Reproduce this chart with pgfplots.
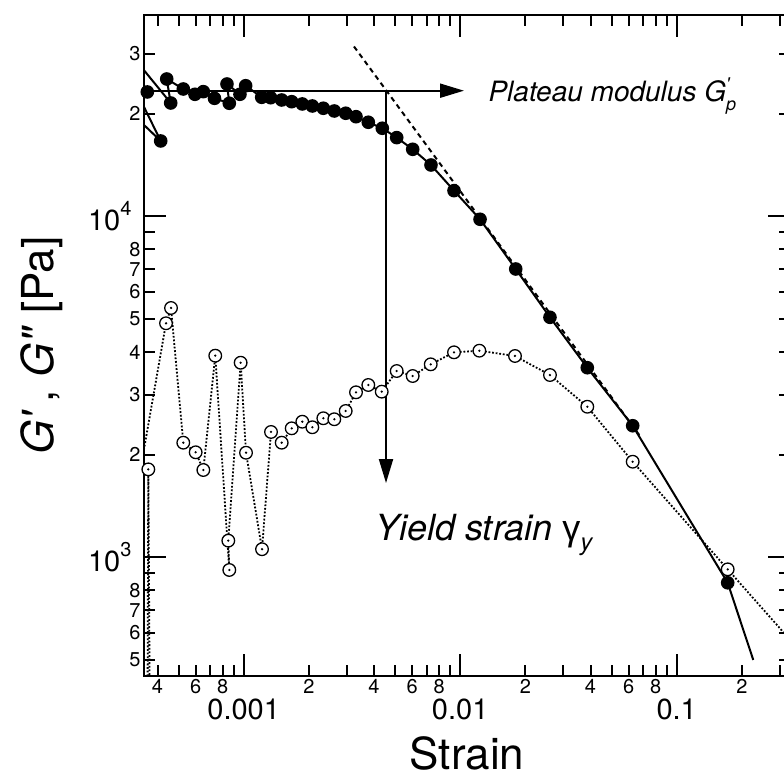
\documentclass[border=0pt]{standalone}
\usepackage{fontspec}
\setmainfont{TeX Gyre Heros}
\newfontfamily\greekfont{Liberation Sans}
\usepackage{pgfplots}
\pgfplotsset{compat=1.18}
\usetikzlibrary{arrows.meta}

\pgfdeclareplotmark{odot}{%
  \pgfpathcircle{\pgfpointorigin}{\pgfplotmarksize}%
  \pgfsetfillcolor{white}%
  \pgfusepathqfillstroke
  \pgfpathcircle{\pgfpointorigin}{0.2\pgfplotmarksize}%
  \pgfsetfillcolor{black}%
  \pgfusepathqfill
}

\begin{document}
\begin{tikzpicture}
\begin{axis}[
  xmode=log, ymode=log,
  scale only axis, width=646pt, height=661pt,
  xmin=3.463e-4, xmax=0.3337, ymin=448.7, ymax=38940,
  axis line style={line width=2.5pt},
  tick style={line width=2pt, black},
  major tick length=22pt, minor tick length=11pt,
  /pgf/number format/assume math mode=true,
  xtick={0.001,0.01,0.1}, xticklabels={0.001,0.01,0.1},
  minor xtick={4e-4,5e-4,6e-4,7e-4,8e-4,9e-4,2e-3,3e-3,4e-3,5e-3,6e-3,7e-3,8e-3,9e-3,2e-2,3e-2,4e-2,5e-2,6e-2,7e-2,8e-2,9e-2,0.2,0.3},
  extra x ticks={4e-4,6e-4,8e-4,2e-3,4e-3,6e-3,8e-3,2e-2,4e-2,6e-2,8e-2,0.2},
  extra x tick labels={4,6,8,2,4,6,8,2,4,6,8,2},
  extra x tick style={major tick length=11pt, xticklabel style={font=\fontsize{20}{22}\selectfont, yshift=19pt}},
  xticklabel style={font=\fontsize{29}{31}\selectfont, yshift=-19pt},
  ytick={1000,10000},
  yticklabels={10\raisebox{0.5em}{\fontsize{20}{20}\selectfont 3},10\raisebox{0.5em}{\fontsize{20}{20}\selectfont 4}},
  minor ytick={500,600,700,800,900,2000,3000,4000,5000,6000,7000,8000,9000,20000,30000},
  extra y ticks={500,600,700,800,2000,3000,4000,5000,6000,7000,8000,20000,30000},
  extra y tick labels={5,6,7,8,2,3,4,5,6,7,8,2,3},
  extra y tick style={major tick length=11pt, yticklabel style={font=\fontsize{20}{22}\selectfont, xshift=9pt}},
  yticklabel style={font=\fontsize{29}{31}\selectfont, xshift=-9pt},
  xlabel={Strain},
  xlabel style={font=\fontsize{44}{48}\selectfont, at={(axis description cs:0.5,-0.1422)}, anchor=base},
  ylabel={\textit{G\textquotesingle}\,, \textit{G\textquotedbl} [Pa]},
  ylabel style={font=\fontsize{44}{48}\selectfont, at={(axis description cs:-0.158,0.5)}, anchor=center},
]
% G' (storage modulus)
\addplot[black, line width=2pt, mark=*, mark size=5.8pt, mark options={solid, fill=black}] coordinates {
(2.683e-4,29120) (4.136e-4,16630) (2.683e-4,21630) (3.587e-4,23150) (2.829e-4,31370)
(4.601e-4,21490) (4.41e-4,25270) (5.26e-4,23620) (5.956e-4,22790) (6.51e-4,23200)
(7.33e-4,22180) (8.58e-4,21450) (8.37e-4,24430) (9.61e-4,22790) (1.021e-3,24150)
(1.211e-3,22330) (1.332e-3,22270) (1.498e-3,21930) (1.666e-3,21680) (1.865e-3,21350)
(2.075e-3,21060) (2.332e-3,20740) (2.621e-3,20360) (2.959e-3,20050) (3.302e-3,19590)
(3.763e-3,18870) (4.367e-3,18120) (5.09e-3,17010) (6.034e-3,15720) (7.33e-3,14140)
(9.363e-3,11890) (1.235e-2,9800) (1.805e-2,7006) (2.598e-2,5056) (3.865e-2,3597)
(6.263e-2,2431) (0.172,842)
};
\addplot[black, line width=2pt, no marks] coordinates {(0.172,842) (0.2258,500)};
% G'' (loss modulus)
\addplot[black, line width=1.8pt, dash pattern=on 1.8pt off 1.8pt, mark=odot, mark size=6.3pt, mark options={solid, line width=1.3pt}] coordinates {
(3.557e-4,50.3) (3.626e-4,1811) (3.751e-4,50.3) (3.082e-4,1358) (4.377e-4,4856)
(4.616e-4,5384) (5.26e-4,2168) (6.0e-4,2032) (6.51e-4,1803) (7.39e-4,3902)
(8.58e-4,918) (8.49e-4,1119) (9.68e-4,3721) (1.025e-3,2026) (1.215e-3,1056)
(1.337e-3,2331) (1.498e-3,2168) (1.666e-3,2389) (1.865e-3,2498) (2.075e-3,2406)
(2.332e-3,2557) (2.621e-3,2540) (2.959e-3,2686) (3.302e-3,3047) (3.763e-3,3201)
(4.34e-3,3060) (5.09e-3,3518) (6.034e-3,3401) (7.31e-3,3681) (9.363e-3,3992)
(1.226e-2,4035) (1.791e-2,3894) (2.598e-2,3424) (3.865e-2,2764) (6.263e-2,1907)
(0.172,922) (0.568,391.6)
};
% power-law tangent
\addplot[black, line width=2pt, dash pattern=on 5pt off 4pt, no marks] coordinates {(3.232e-3,31470) (6.77e-2,2268)};
% annotation arrows
\draw[line width=2pt, -{Triangle[length=24pt,width=14pt]}] (axis cs:3.463e-4,23350) -- (axis cs:1.0413e-2,23350);
\draw[line width=2pt, -{Triangle[length=24pt,width=14pt]}] (axis cs:4.543e-3,23350) -- (axis cs:4.543e-3,1651);
\node[anchor=base west, font=\itshape\fontsize{28}{30}\selectfont] at (axis description cs:0.5279,0.8688)
  {Plateau modulus G\rlap{\raisebox{0.4em}{\fontsize{18}{18}\selectfont\textquotesingle}}\raisebox{-0.3em}{\fontsize{18}{18}\selectfont p}};
\node[anchor=base west, font=\fontsize{36}{40}\selectfont] at (axis description cs:0.3529,0.2057)
  {\textit{Yield strain} {\greekfont γ}\raisebox{-0.3em}{\fontsize{24}{24}\selectfont\textit{y}}};
\end{axis}
\pgfresetboundingbox
\useasboundingbox (current axis.south west) ++(-144pt,-105pt) rectangle ++(784pt,781pt);
\end{tikzpicture}
\end{document}
